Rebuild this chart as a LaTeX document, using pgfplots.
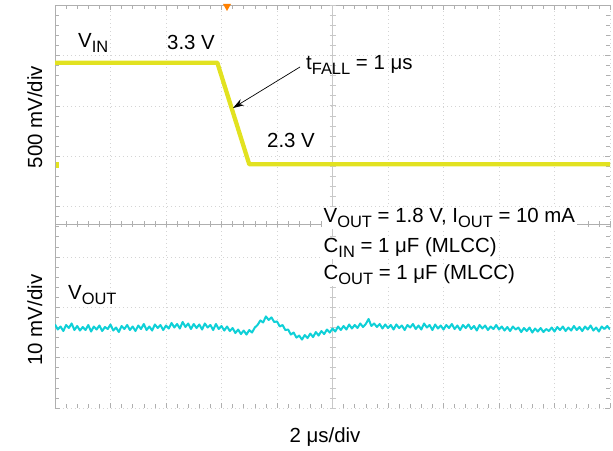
\documentclass[border=0pt]{standalone}
\usepackage{pgfplots}
\pgfplotsset{compat=1.18}
\usepackage{fontspec}
\setmainfont{Liberation Sans}
\usetikzlibrary{arrows.meta}
\definecolor{vin}{RGB}{226,226,32}
\definecolor{vout}{RGB}{15,208,215}
\definecolor{scopegrid}{RGB}{212,212,212}
\definecolor{scopeline}{RGB}{175,175,175}
\definecolor{scopecentre}{RGB}{200,200,200}
\newcommand\sub[1]{\raisebox{-4.5bp}{\fontsize{16.5}{18}\selectfont #1}}
\begin{document}
\fontsize{20.5}{24}\selectfont
\begin{tikzpicture}
\useasboundingbox (-55bp,-43bp) rectangle (558bp,408bp);
% scope graticule
\begin{axis}[
  at={(0,0)}, anchor=south west, scale only axis, width=555bp, height=403bp,
  xmin=0, xmax=10, ymin=0, ymax=8,
  xtick={0,...,10}, ytick={0,...,8}, minor tick num=4,
  xticklabels={}, yticklabels={},
  tick align=inside, major tick length=5bp, minor tick length=4bp,
  tick style={scopeline, line width=0.5bp},
  grid=major, major grid style={scopegrid, dash pattern=on 1bp off 3bp, line width=0.5bp},
  axis line style={draw=none},
]
\end{axis}
% frame (left and top), separator and centre line
\draw[scopeline, line width=0.6bp] (0,0) -- (0,403bp) -- (555bp,403bp);
\draw[scopeline, line width=0.6bp] (0,184bp) -- (555bp,184bp);
\draw[scopecentre, line width=0.5bp] (277.5bp,0) -- (277.5bp,403bp);
\foreach \k in {0,...,50}{
  \draw[scopeline, line width=0.5bp] (\k*11.1bp,181bp) -- (\k*11.1bp,187bp);
}
\foreach \k in {0,...,40}{
  \draw[scopecentre, line width=0.5bp] (274.5bp,\k*10.075bp) -- (280.5bp,\k*10.075bp);
}
% V_IN trace (volts)
\begin{axis}[
  at={(0,0)}, anchor=south west, scale only axis, width=555bp, height=403bp,
  xmin=0, xmax=20, ymin=-0.099, ymax=3.868, hide axis,
]
\addplot[vin, line width=4.3bp, line join=round, mark=none] coordinates {
(0,3.3) (5.85,3.3) (7.0,2.3) (20,2.3)
};
\end{axis}
% V_OUT trace (mV deviation)
\begin{axis}[
  at={(0,0)}, anchor=south west, scale only axis, width=555bp, height=403bp,
  xmin=0, xmax=20, ymin=-15.87, ymax=64.09, hide axis,
]
\addplot[vout, line width=2.0bp, line join=round, mark=none] coordinates {
(0.0,0.7) (0.1,-0.3) (0.2,0.3) (0.3,-0.6) (0.4,0.6) (0.5,0.0) (0.6,0.9) (0.7,-0.4) (0.8,0.4) (0.9,-0.5) (1.0,0.2)
(1.1,-0.4) (1.2,0.6) (1.3,-0.7) (1.4,0.3) (1.5,-0.3) (1.6,0.5) (1.7,-0.6) (1.8,0.2) (1.9,-0.2) (2.0,0.7)
(2.1,-0.5) (2.2,0.1) (2.3,-0.8) (2.4,0.4) (2.5,-0.2) (2.6,0.6) (2.7,-0.4) (2.8,0.3) (2.9,-0.6) (3.0,0.5)
(3.1,-0.2) (3.2,0.8) (3.3,-0.4) (3.4,0.3) (3.5,-0.5) (3.6,0.7) (3.7,0.0) (3.8,0.6) (3.9,-0.4) (4.0,0.5)
(4.1,-0.1) (4.2,1.0) (4.3,0.1) (4.4,0.8) (4.5,-0.1) (4.6,1.2) (4.7,0.2) (4.8,0.9) (4.9,-0.2) (5.0,0.8)
(5.1,0.0) (5.2,0.7) (5.3,-0.3) (5.4,0.9) (5.5,0.1) (5.6,0.6) (5.7,-0.4) (5.8,0.8) (5.9,-0.2) (6.0,0.4)
(6.1,-0.5) (6.2,0.3) (6.3,-0.6) (6.4,0.0) (6.5,-1.0) (6.6,-0.3) (6.7,-1.2) (6.8,-0.5) (6.9,-1.3) (7.0,-0.4)
(7.1,-0.9) (7.2,0.1) (7.3,0.6) (7.4,1.5) (7.5,1.1) (7.6,2.3) (7.7,1.6) (7.8,2.1) (7.9,1.2) (8.0,1.3)
(8.1,0.3) (8.2,0.6) (8.3,-0.4) (8.4,-0.3) (8.5,-1.3) (8.6,-0.9) (8.7,-1.9) (8.8,-1.5) (8.9,-2.3) (9.0,-1.4)
(9.1,-2.0) (9.2,-1.1) (9.3,-1.8) (9.4,-0.8) (9.5,-1.5) (9.6,-0.6) (9.7,-1.2) (9.8,-0.3) (9.9,-0.9) (10.0,-0.1)
(10.1,-0.7) (10.2,0.3) (10.3,-0.4) (10.4,0.4) (10.5,-0.3) (10.6,0.7) (10.7,-0.1) (10.8,0.6) (10.9,0.0) (11.0,0.9)
(11.1,0.2) (11.2,0.8) (11.3,1.8) (11.4,0.4) (11.5,0.9) (11.6,0.2) (11.7,0.8) (11.8,-0.1) (11.9,0.7) (12.0,0.0)
(12.1,0.6) (12.2,-0.3) (12.3,0.7) (12.4,0.0) (12.5,0.5) (12.6,-0.4) (12.7,0.6) (12.8,0.1) (12.9,0.8) (13.0,-0.2)
(13.1,0.5) (13.2,-0.3) (13.3,0.9) (13.4,0.1) (13.5,0.6) (13.6,-0.4) (13.7,0.7) (13.8,-0.1) (13.9,0.5) (14.0,-0.3)
(14.1,0.6) (14.2,0.0) (14.3,0.8) (14.4,-0.2) (14.5,0.5) (14.6,-0.4) (14.7,0.6) (14.8,0.0) (14.9,0.7) (15.0,-0.2)
(15.1,0.4) (15.2,-0.5) (15.3,0.6) (15.4,-0.1) (15.5,0.5) (15.6,-0.4) (15.7,0.3) (15.8,-0.2) (15.9,0.6) (16.0,-0.3)
(16.1,0.3) (16.2,-0.5) (16.3,0.2) (16.4,-0.6) (16.5,0.3) (16.6,-0.3) (16.7,0.1) (16.8,-0.8) (16.9,0.0) (17.0,-0.6)
(17.1,0.1) (17.2,-0.9) (17.3,-0.1) (17.4,-0.7) (17.5,0.0) (17.6,-0.8) (17.7,-0.2) (17.8,-0.6) (17.9,0.1) (18.0,-0.7)
(18.1,0.2) (18.2,-0.4) (18.3,0.3) (18.4,-0.6) (18.5,0.1) (18.6,-0.5) (18.7,0.4) (18.8,-0.4) (18.9,0.2) (19.0,-0.6)
(19.1,0.3) (19.2,-0.3) (19.3,0.5) (19.4,-0.5) (19.5,0.1) (19.6,-0.7) (19.7,0.3) (19.8,-0.2) (19.9,0.4) (20.0,-0.3)
};
\end{axis}
% markers
\fill[orange] (168bp,404bp) -- (176bp,404bp) -- (172bp,397bp) -- cycle;
\fill[vin] (1bp,240bp) rectangle (4bp,246bp);
% annotations
\node[anchor=base west, inner sep=0] at (23bp,360bp) {V\sub{IN}};
\node[anchor=base west, inner sep=0] at (112bp,358bp) {3.3 V};
\node[anchor=base west, inner sep=0] at (251bp,338bp) {t\sub{FALL} = 1 μs};
\draw[-{Stealth[length=11bp,width=7bp]}, line width=0.7bp] (245bp,341bp) -- (178bp,300bp);
\node[anchor=base west, inner sep=0] at (212bp,260bp) {2.3 V};
\node[anchor=base west, inner sep=1.5bp, fill=white] at (267bp,185bp) {V\sub{OUT} = 1.8 V, I\sub{OUT} = 10 mA};
\node[anchor=base west, inner sep=1.5bp, fill=white] at (267bp,155bp) {C\sub{IN} = 1 μF (MLCC)};
\node[anchor=base west, inner sep=1.5bp, fill=white] at (267bp,128bp) {C\sub{OUT} = 1 μF (MLCC)};
\node[anchor=base west, inner sep=0] at (13bp,108bp) {V\sub{OUT}};
% axis-style labels
\node[anchor=base, rotate=90, inner sep=0] at (-13bp,291bp) {500 mV/div};
\node[anchor=base, rotate=90, inner sep=0] at (-13bp,88bp) {10 mV/div};
\node[anchor=base, inner sep=0] at (270bp,-34bp) {2 μs/div};
\end{tikzpicture}
\end{document}
